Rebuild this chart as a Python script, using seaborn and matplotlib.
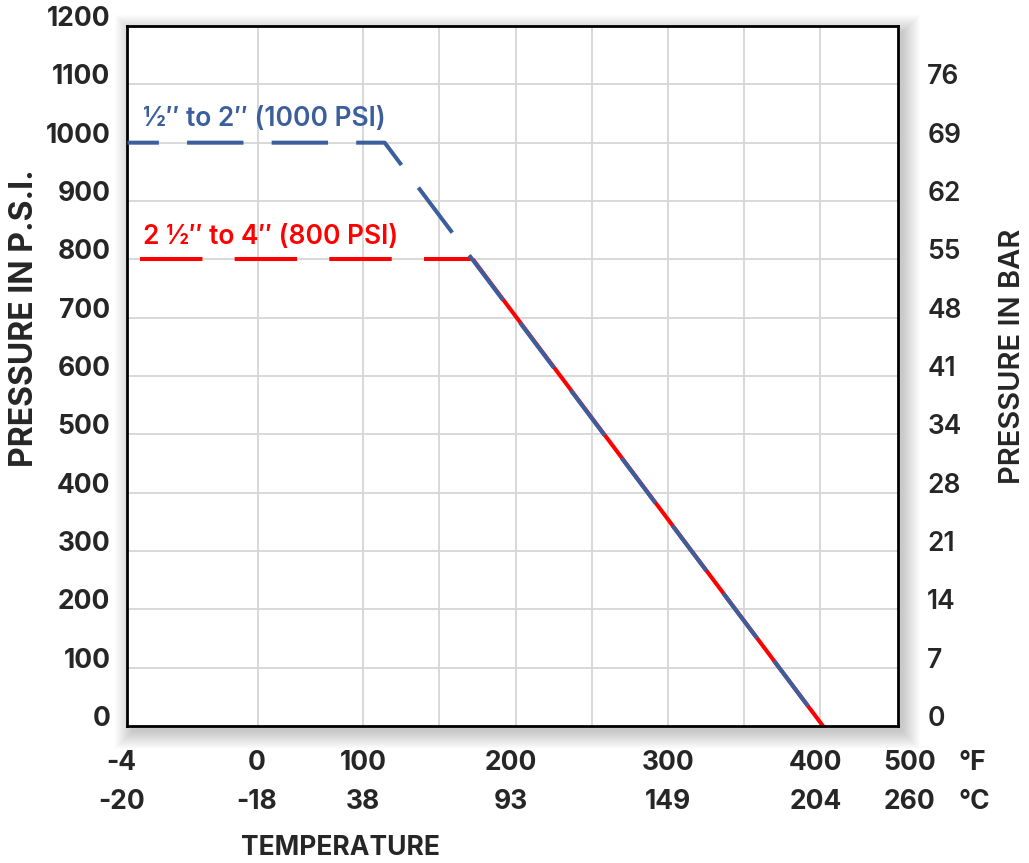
import numpy as np
import pandas as pd
import matplotlib
matplotlib.use("Agg")
import matplotlib.pyplot as plt
import matplotlib.transforms as mtransforms
from matplotlib.patches import Rectangle
import seaborn as sns

# Data (temperature axis drawn in deg F, schematic)
small_temp_f = [-55, 114, 402]
small_psi = [1000, 1000, 0]
large_temp_f = [-47, 172, 402]
large_psi = [800, 800, 0]

psi_ticks = [0, 100, 200, 300, 400, 500, 600, 700, 800, 900, 1000, 1100, 1200]
bar_labels = ["0", "7", "14", "21", "28", "34", "41", "48", "55", "62", "69", "76"]
temp_f_labels = ["-4", "0", "100", "200", "300", "400", "500"]
temp_c_labels = ["-20", "-18", "38", "93", "149", "204", "260"]
temp_label_pos = [-59, 30, 100, 197, 300, 397, 459]
grid_x = [31, 100, 150, 200, 250, 300, 350, 400]

BLUE = "#3B5E9C"
RED = "#FF0000"
FONT = ["Inter", "Roboto", "DejaVu Sans"]

sns.set_theme(style="white")
plt.rcParams["font.family"] = FONT

fig = plt.figure(figsize=(10.29, 8.63), dpi=100)
ax = fig.add_axes([127 / 1029, 1 - 726 / 863, 771 / 1029, 700 / 863])
ax.set_facecolor("white")
ax.set_zorder(2)

# soft drop shadow behind the plot box
for i in range(18):
    pad = i / 1029
    padv = i / 863
    fig.patches.append(Rectangle(
        (127 / 1029 - pad + 5 / 1029, 1 - 726 / 863 - padv - 6 / 863),
        771 / 1029 + 2 * pad, 700 / 863 + 2 * padv,
        transform=fig.transFigure, color="black", alpha=0.012, zorder=-5, lw=0))

ax.set_xlim(-55.3, 451.3)
ax.set_ylim(0, 1200)

# grid
for gx in grid_x:
    ax.axvline(gx, color="#d6d6d6", lw=1.3, zorder=1)
for gy in psi_ticks[1:-1]:
    ax.axhline(gy, color="#d6d6d6", lw=1.3, zorder=1)

lw = 2.9
red_df = pd.DataFrame({"temp": large_temp_f, "psi": large_psi})
blue_df = pd.DataFrame({"temp": small_temp_f, "psi": small_psi})
sns.lineplot(data=red_df.iloc[0:2], x="temp", y="psi", ax=ax, sort=False, estimator=None,
             color=RED, lw=lw, linestyle=(0, (15.5, 8)), zorder=2)
sns.lineplot(data=red_df.iloc[1:3], x="temp", y="psi", ax=ax, sort=False, estimator=None,
             color=RED, lw=lw, zorder=2)
sns.lineplot(data=blue_df, x="temp", y="psi", ax=ax, sort=False, estimator=None,
             color=BLUE, lw=lw, linestyle=(6.2, (14, 7)), zorder=3)
for line in ax.get_lines():
    line.set_solid_capstyle("butt")
    line.set_dash_capstyle("butt")
    line.set_solid_joinstyle("miter")

ax.text(-45, 1040, "½″ to 2″ (1000 PSI)", color=BLUE, fontsize=19, fontweight="semibold",
        va="center", ha="left", family=FONT)
ax.text(-45, 839, "2 ½″ to 4″ (800 PSI)", color=RED, fontsize=19, fontweight="semibold",
        va="center", ha="left", family=FONT)

for sp in ax.spines.values():
    sp.set_visible(True)
    sp.set_color("black")
    sp.set_linewidth(2)

ax.set_xticks([])
ax.set_xlabel("")
ax.set_ylabel("")
up = mtransforms.ScaledTranslation(0, 7.2 / 72, fig.dpi_scale_trans)
ax.set_yticks(psi_ticks)
ax.set_yticklabels([str(v) for v in psi_ticks], fontsize=19, fontweight="bold")
ax.tick_params(axis="y", length=0, pad=12)
for lbl in ax.get_yticklabels():
    lbl.set_transform(lbl.get_transform() + up)

ax2 = ax.twinx()
ax2.set_ylim(0, 1200)
ax2.set_yticks(psi_ticks[:-1])
ax2.set_yticklabels(bar_labels, fontsize=19, fontweight="semibold")
ax2.tick_params(axis="y", length=0, pad=21)
for lbl in ax2.get_yticklabels():
    lbl.set_transform(lbl.get_transform() + up)
for sp in ax2.spines.values():
    sp.set_visible(False)
ax2.patch.set_visible(False)
ax2.grid(False)

# two-row temperature labels
bt = mtransforms.blended_transform_factory(ax.transData, fig.transFigure)
for pos, f_lab, c_lab in zip(temp_label_pos, temp_f_labels, temp_c_labels):
    ax.text(pos, 1 - 763 / 863, f_lab, transform=bt, ha="center", va="center",
            fontsize=19, fontweight="bold", clip_on=False)
    ax.text(pos, 1 - 802 / 863, c_lab, transform=bt, ha="center", va="center",
            fontsize=19, fontweight="bold", clip_on=False)
fig.text(958 / 1029, 1 - 763 / 863, "°F", ha="left", va="center", fontsize=19, fontweight="bold")
fig.text(958 / 1029, 1 - 802 / 863, "°C", ha="left", va="center", fontsize=19, fontweight="bold")

fig.text(340 / 1029, 1 - 848 / 863, "TEMPERATURE", ha="center", va="center",
         fontsize=19, fontweight="bold")
fig.text(25 / 1029, 1 - 318 / 863, "PRESSURE IN P.S.I.", rotation=90, ha="center",
         va="center", fontsize=23, fontweight="bold")
fig.text(1013 / 1029, 1 - 356 / 863, "PRESSURE IN BAR", rotation=90, ha="center",
         va="center", fontsize=21, fontweight="semibold")

fig.savefig("out.png", dpi=100, facecolor="white")
